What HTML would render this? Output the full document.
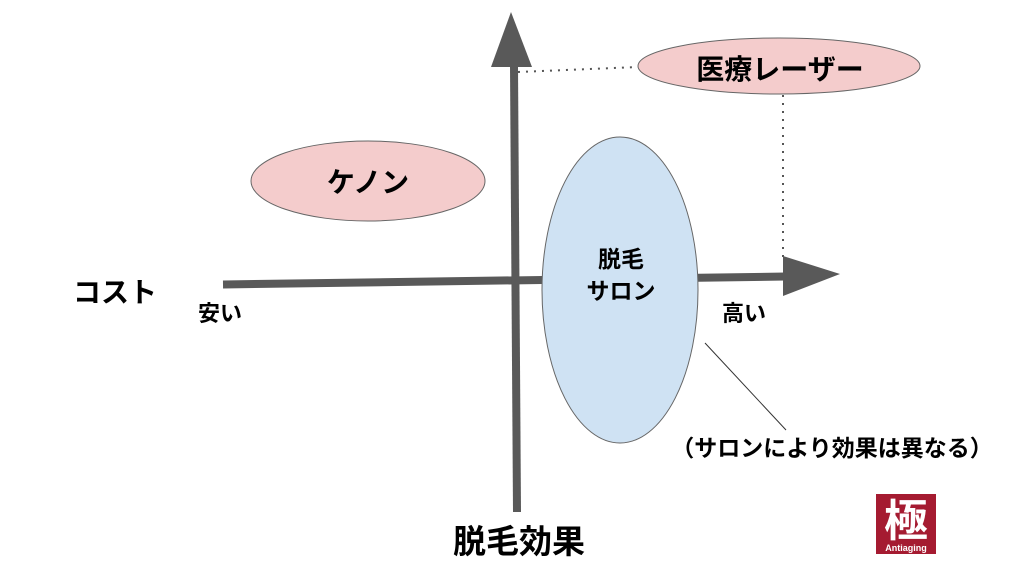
<!DOCTYPE html>
<html><head><meta charset="utf-8"><style>
html,body{margin:0;padding:0;background:#fff;}
svg{display:block;}
text{font-family:"Liberation Sans","Noto Sans CJK JP",sans-serif;font-weight:bold;fill:#000;}
</style></head><body>
<svg width="1024" height="570" viewBox="0 0 1024 570" xmlns="http://www.w3.org/2000/svg">
<line x1="518" y1="72" x2="638" y2="67" stroke="#555" stroke-width="2" stroke-dasharray="2,6"/>
<line x1="783" y1="95" x2="783" y2="258" stroke="#555" stroke-width="2" stroke-dasharray="2,6"/>
<ellipse cx="368" cy="181" rx="117" ry="40" fill="#f4cccc" stroke="#666" stroke-width="1"/>
<ellipse cx="779" cy="66" rx="141" ry="28" fill="#f4cccc" stroke="#666" stroke-width="1"/>
<line x1="223" y1="284.5" x2="786" y2="276.5" stroke="#595959" stroke-width="8"/>
<polygon points="783,256 840,274 783,296" fill="#595959"/>
<line x1="514" y1="66" x2="517" y2="512" stroke="#595959" stroke-width="8"/>
<polygon points="491,67 511,12 532,67" fill="#595959"/>
<ellipse cx="620" cy="290" rx="78" ry="153" fill="#cfe2f3" stroke="#666" stroke-width="1"/>
<line x1="705" y1="343" x2="786" y2="430" stroke="#333" stroke-width="1"/>
<text x="368" y="192" font-size="28" text-anchor="middle">ケノン</text>
<text x="780" y="79" font-size="28" text-anchor="middle">医療レーザー</text>
<text x="621" y="267" font-size="23" text-anchor="middle">脱毛</text>
<text x="621" y="299" font-size="23" text-anchor="middle">サロン</text>
<text x="115" y="302" font-size="28" text-anchor="middle">コスト</text>
<text x="220" y="321" font-size="22" text-anchor="middle">安い</text>
<text x="744" y="321" font-size="22" text-anchor="middle">高い</text>
<text x="832" y="456" font-size="23" text-anchor="middle">（サロンにより効果は異なる）</text>
<text x="519" y="553" font-size="33" text-anchor="middle">脱毛効果</text>
<rect x="876" y="494" width="60" height="60" fill="#a51b31"/>
<text x="906" y="536" font-size="44" text-anchor="middle" style="fill:#fff">極</text>
<text x="906" y="551" font-size="9" text-anchor="middle" style="fill:#fff">Antiaging</text>
</svg>
</body></html>
